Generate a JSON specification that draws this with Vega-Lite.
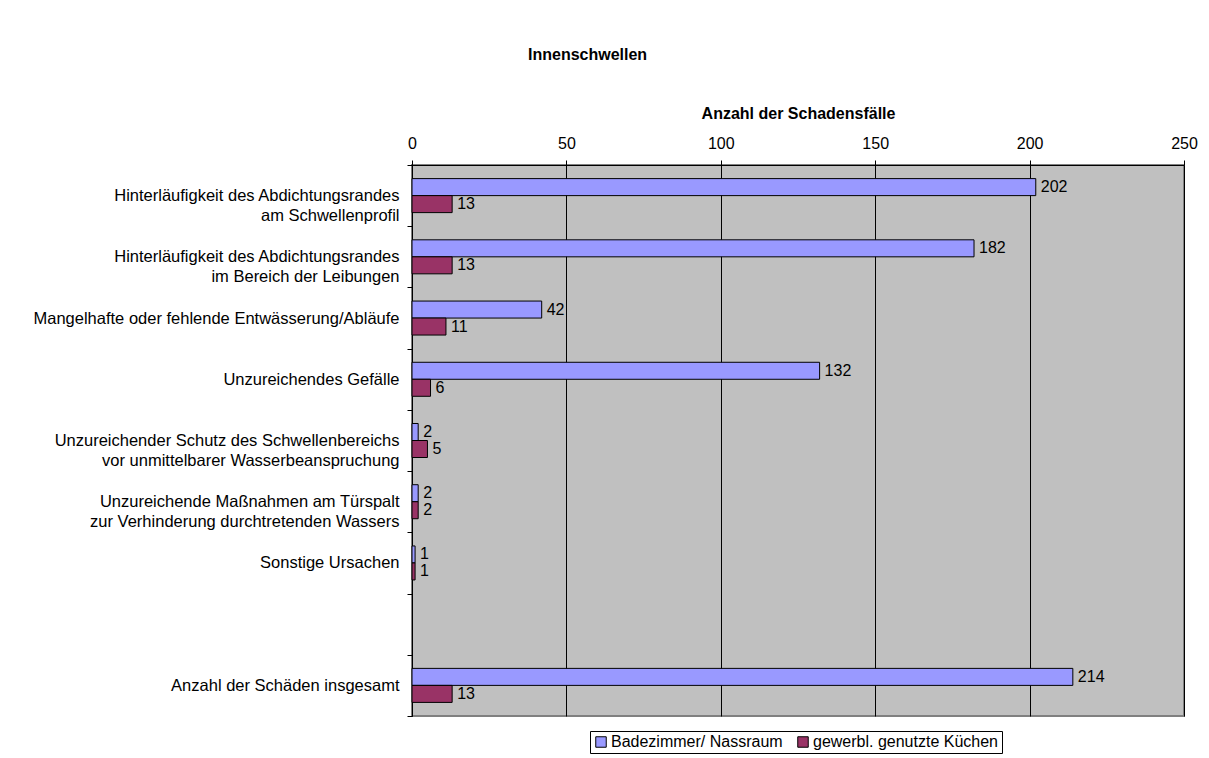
{
  "$schema": "https://vega.github.io/schema/vega-lite/v6.json",
  "autosize": "none",
  "width": 772,
  "height": 551,
  "padding": {"left": 412, "top": 165, "right": 25, "bottom": 42},
  "background": "white",
  "title": {
    "text": "Innenschwellen",
    "anchor": "start",
    "frame": "group",
    "dx": 116,
    "offset": 42,
    "font": "Liberation Sans",
    "fontSize": 16,
    "fontWeight": "bold",
    "color": "black"
  },
  "config": {
    "font": "Liberation Sans",
    "view": {"fill": "#C0C0C0", "stroke": "#808080", "strokeWidth": 2},
    "axis": {"labelFont": "Liberation Sans", "titleFont": "Liberation Sans", "labelColor": "black", "titleColor": "black", "domainColor": "black", "tickColor": "black"}
  },
  "data": {
    "values": [
      {"Ursache": "Hinterläufigkeit des Abdichtungsrandes|am Schwellenprofil", "Bereich": "Badezimmer/ Nassraum", "Anzahl": 202},
      {"Ursache": "Hinterläufigkeit des Abdichtungsrandes|am Schwellenprofil", "Bereich": "gewerbl. genutzte Küchen", "Anzahl": 13},
      {"Ursache": "Hinterläufigkeit des Abdichtungsrandes|im Bereich der Leibungen", "Bereich": "Badezimmer/ Nassraum", "Anzahl": 182},
      {"Ursache": "Hinterläufigkeit des Abdichtungsrandes|im Bereich der Leibungen", "Bereich": "gewerbl. genutzte Küchen", "Anzahl": 13},
      {"Ursache": "Mangelhafte oder fehlende Entwässerung/Abläufe", "Bereich": "Badezimmer/ Nassraum", "Anzahl": 42},
      {"Ursache": "Mangelhafte oder fehlende Entwässerung/Abläufe", "Bereich": "gewerbl. genutzte Küchen", "Anzahl": 11},
      {"Ursache": "Unzureichendes Gefälle", "Bereich": "Badezimmer/ Nassraum", "Anzahl": 132},
      {"Ursache": "Unzureichendes Gefälle", "Bereich": "gewerbl. genutzte Küchen", "Anzahl": 6},
      {"Ursache": "Unzureichender Schutz des Schwellenbereichs|vor unmittelbarer Wasserbeanspruchung", "Bereich": "Badezimmer/ Nassraum", "Anzahl": 2},
      {"Ursache": "Unzureichender Schutz des Schwellenbereichs|vor unmittelbarer Wasserbeanspruchung", "Bereich": "gewerbl. genutzte Küchen", "Anzahl": 5},
      {"Ursache": "Unzureichende Maßnahmen am Türspalt|zur Verhinderung durchtretenden Wassers", "Bereich": "Badezimmer/ Nassraum", "Anzahl": 2},
      {"Ursache": "Unzureichende Maßnahmen am Türspalt|zur Verhinderung durchtretenden Wassers", "Bereich": "gewerbl. genutzte Küchen", "Anzahl": 2},
      {"Ursache": "Sonstige Ursachen", "Bereich": "Badezimmer/ Nassraum", "Anzahl": 1},
      {"Ursache": "Sonstige Ursachen", "Bereich": "gewerbl. genutzte Küchen", "Anzahl": 1},
      {"Ursache": "Anzahl der Schäden insgesamt", "Bereich": "Badezimmer/ Nassraum", "Anzahl": 214},
      {"Ursache": "Anzahl der Schäden insgesamt", "Bereich": "gewerbl. genutzte Küchen", "Anzahl": 13}
    ]
  },
  "encoding": {
    "y": {
      "field": "Ursache",
      "type": "nominal",
      "sort": null,
      "scale": {
        "domain": [
          "Hinterläufigkeit des Abdichtungsrandes|am Schwellenprofil",
          "Hinterläufigkeit des Abdichtungsrandes|im Bereich der Leibungen",
          "Mangelhafte oder fehlende Entwässerung/Abläufe",
          "Unzureichendes Gefälle",
          "Unzureichender Schutz des Schwellenbereichs|vor unmittelbarer Wasserbeanspruchung",
          "Unzureichende Maßnahmen am Türspalt|zur Verhinderung durchtretenden Wassers",
          "Sonstige Ursachen",
          " ",
          "Anzahl der Schäden insgesamt"
        ],
        "paddingInner": 0,
        "paddingOuter": 0
      },
      "axis": {
        "title": null,
        "labelExpr": "split(datum.label, '|')",
        "labelFontSize": 16.5,
        "labelLineHeight": 20,
        "labelAlign": "right",
        "labelBaseline": "middle",
        "labelPadding": 8,
        "tickSize": 5,
        "tickBand": "extent",
        "labelLimit": 420,
        "domainColor": "black",
        "grid": false
      }
    },
    "yOffset": {
      "field": "Bereich",
      "type": "nominal",
      "sort": ["Badezimmer/ Nassraum", "gewerbl. genutzte Küchen"],
      "scale": {"paddingInner": 0, "paddingOuter": 0.8}
    },
    "x": {
      "field": "Anzahl",
      "type": "quantitative",
      "scale": {"domain": [0, 250], "nice": false},
      "axis": {
        "orient": "top",
        "title": "Anzahl der Schadensfälle",
        "titleFontSize": 16,
        "titleFontWeight": "bold",
        "titlePadding": 14,
        "values": [0, 50, 100, 150, 200, 250],
        "labelFontSize": 16,
        "labelPadding": 9,
        "tickSize": 5,
        "grid": true,
        "gridColor": "black",
        "gridOpacity": 1,
        "gridWidth": 1,
        "labelFlush": false
      }
    }
  },
  "layer": [
    {
      "mark": {"type": "bar", "stroke": "black", "strokeWidth": 1},
      "encoding": {
        "color": {
          "field": "Bereich",
          "type": "nominal",
          "scale": {"domain": ["Badezimmer/ Nassraum", "gewerbl. genutzte Küchen"], "range": ["#9999FF", "#993366"]},
          "legend": {
            "title": null,
            "orient": "none",
            "direction": "horizontal",
            "legendX": 178,
            "legendY": 566,
            "symbolType": "square",
            "symbolSize": 110,
            "symbolStrokeColor": "black",
            "symbolStrokeWidth": 1,
            "symbolOpacity": 1,
            "labelFontSize": 16,
            "labelFont": "Liberation Sans",
            "labelColor": "black",
            "labelOffset": 2,
            "labelLimit": 400,
            "columnPadding": 12,
            "strokeColor": "black",
            "fillColor": "white",
            "padding": 3
          }
        }
      }
    },
    {
      "mark": {"type": "text", "align": "left", "baseline": "middle", "dx": 5, "fontSize": 16, "color": "black", "font": "Liberation Sans"},
      "encoding": {"text": {"field": "Anzahl", "type": "quantitative"}}
    }
  ]
}
